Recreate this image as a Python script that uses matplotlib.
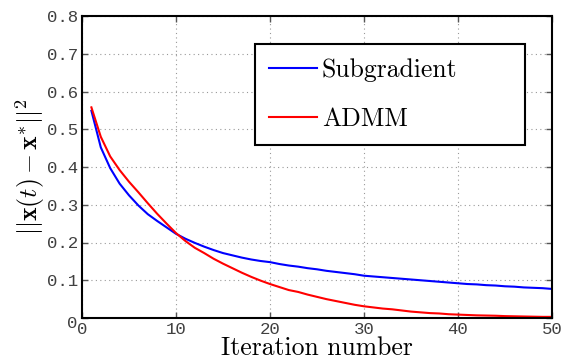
import numpy as np
import matplotlib
matplotlib.use("Agg")
import matplotlib.pyplot as plt
from matplotlib.transforms import ScaledTranslation

# values, one per iteration (1..50)
iterations = np.arange(1, 51)
subgradient = [0.549, 0.452, 0.397, 0.356, 0.325, 0.298, 0.275, 0.257, 0.240, 0.223,
               0.210, 0.199, 0.189, 0.180, 0.172, 0.166, 0.160, 0.155, 0.151, 0.148,
               0.143, 0.139, 0.136, 0.132, 0.129, 0.125, 0.122, 0.119, 0.116, 0.112,
               0.110, 0.108, 0.106, 0.104, 0.102, 0.100, 0.098, 0.096, 0.094, 0.092,
               0.090, 0.089, 0.087, 0.086, 0.084, 0.083, 0.081, 0.080, 0.079, 0.077]
admm = [0.558, 0.480, 0.428, 0.392, 0.361, 0.333, 0.304, 0.276, 0.250, 0.225,
        0.204, 0.186, 0.172, 0.157, 0.144, 0.132, 0.120, 0.109, 0.099, 0.090,
        0.082, 0.074, 0.069, 0.062, 0.056, 0.050, 0.045, 0.040, 0.035, 0.031,
        0.028, 0.025, 0.023, 0.020, 0.017, 0.015, 0.013, 0.012, 0.010, 0.009,
        0.008, 0.007, 0.0065, 0.006, 0.005, 0.0045, 0.004, 0.0035, 0.003, 0.003]

xticks = [0, 10, 20, 30, 40, 50]
yticks = [0, 0.1, 0.2, 0.3, 0.4, 0.5, 0.6, 0.7, 0.8]
yticklabels = ["0", "0.1", "0.2", "0.3", "0.4", "0.5", "0.6", "0.7", "0.8"]

plt.rcParams['mathtext.fontset'] = 'cm'

fig = plt.figure(figsize=(5.63, 3.63), dpi=100)
ax = fig.add_axes([82/563, 1 - 318/363, 470/563, 302/363])

ax.plot(iterations, subgradient, color=(0, 0, 1), lw=1.5, label="Subgradient")
ax.plot(iterations, admm, color=(1, 0, 0), lw=1.5, label="ADMM")

ax.set_xlim(0, 50)
ax.set_ylim(0, 0.8)
ax.set_xticks(xticks)
ax.set_yticks(yticks)
ax.set_yticklabels(yticklabels)
ax.grid(True, linestyle=(0, (1, 3)), color='#999999', lw=0.8)
ax.tick_params(direction='in', length=4, width=1, colors='#555555',
               labelcolor='#404040', labelsize=12.5, pad=3,
               top=True, right=True)
for lbl in ax.get_xticklabels() + ax.get_yticklabels():
    lbl.set_family('Liberation Mono')
# MATLAB puts the y "0" a bit low
ylab0 = ax.get_yticklabels()[0]
ylab0.set_transform(ylab0.get_transform() + ScaledTranslation(0, -4/100, fig.dpi_scale_trans))
for s in ax.spines.values():
    s.set_linewidth(1.5)
    s.set_color('black')

ax.set_xlabel("Iteration number", family='cmr10', fontsize=18.5, labelpad=-1)
ax.set_ylabel(r"$||\mathbf{x}(t) - \mathbf{x}^{*}||^2$", fontsize=18.5, labelpad=0)

x0 = (255 - 82) / 470
x1 = (525 - 82) / 470
y1 = (318 - 44) / 302
y0 = (318 - 143) / 302
leg = ax.legend(loc='upper left', bbox_to_anchor=(x0, y0, x1 - x0, y1 - y0), mode='expand',
                borderaxespad=0, fancybox=False, framealpha=1, edgecolor='black',
                prop={'family': 'cmr10', 'size': 18.5}, handlelength=1.85,
                labelspacing=1.0, borderpad=0.55, handletextpad=0.2)
leg.get_frame().set_linewidth(1.5)

fig.savefig("out.png", dpi=100)
